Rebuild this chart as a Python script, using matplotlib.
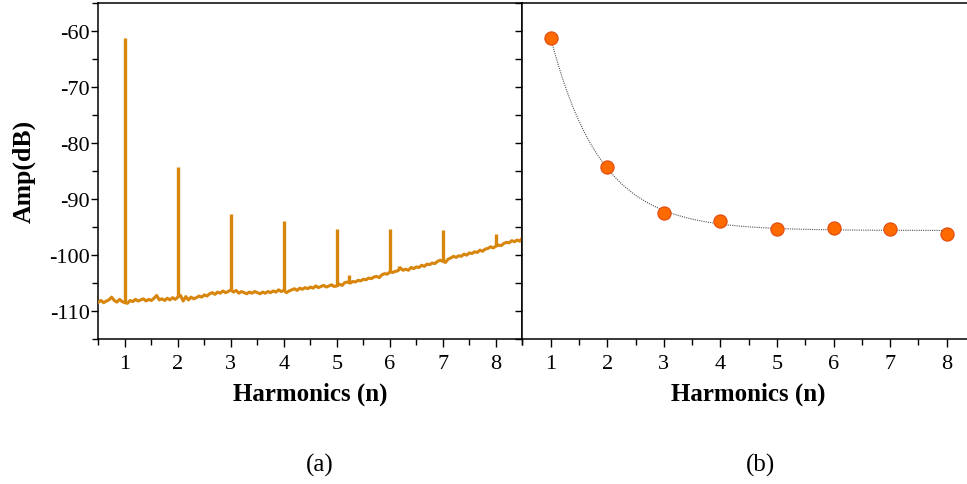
import numpy as np
import matplotlib
matplotlib.use("Agg")
import matplotlib.pyplot as plt
from matplotlib.ticker import MultipleLocator

# (a) spectrum: noise floor sampled every 0.05 harmonic from 0.5 to 8.5
floor_start = 0.5
floor_step = 0.05
floor_db = [
    -108.5, -108.2, -108.6, -108.3, -108.1, -107.6, -108.2, -108.5, -108.0, -108.4,
    -108.6, -108.7, -108.2, -108.4, -108.0, -108.3, -108.1, -107.9, -108.3, -108.0,
    -108.2, -107.8, -107.3, -108.1, -107.9, -108.2, -107.8, -108.1, -107.7, -108.0,
    -107.6, -107.3, -108.3, -107.5, -108.1, -107.6, -107.9, -107.7, -107.4, -107.6,
    -107.2, -107.4, -107.0, -106.8, -107.1, -106.7, -106.9, -106.5, -106.8, -106.6,
    -106.3, -106.7, -106.4, -106.9, -106.6, -106.8, -107.0, -106.7, -106.9, -106.6,
    -106.8, -107.0, -106.7, -106.9, -106.6, -106.8, -106.5, -106.7, -106.3, -106.6,
    -106.4, -106.8, -106.5, -106.3, -106.1, -106.4, -106.0, -106.2, -105.9, -106.1,
    -105.8, -106.0, -105.6, -105.9, -105.7, -105.5, -105.8, -105.6, -105.4, -105.7,
    -105.6, -105.3, -105.5, -105.0, -104.9, -105.1, -104.8, -104.9, -104.6, -104.7,
    -104.4, -104.5, -104.2, -104.3, -104.0, -103.9, -104.1, -103.6, -103.4, -103.5,
    -103.1, -103.2, -103.0, -102.9, -102.4, -102.8, -102.6, -102.8, -102.3, -102.5,
    -102.2, -102.3, -101.9, -102.1, -101.7, -101.8, -101.5, -101.6, -101.2, -101.0,
    -101.2, -101.4, -100.8, -100.6, -100.3, -100.5, -100.2, -100.3, -99.9, -100.1,
    -99.7, -99.8, -99.5, -99.6, -99.2, -99.4, -99.0, -98.9, -98.6, -98.8,
    -98.5, -98.3, -98.4, -98.0, -97.8, -97.9, -97.5, -97.7, -97.4, -97.6,
    -97.0,
]
# spectral lines (harmonic peaks and small spurs)
line_n = [1, 2, 3, 4, 5, 6, 7, 8, 5.22, 6.18]
line_db = [-61.2, -84.3, -92.7, -93.9, -95.4, -95.35, -95.6, -96.4, -103.6, -102.0]

# (b) extracted harmonic amplitudes
harm_n = [1, 2, 3, 4, 5, 6, 7, 8]
harm_db = [-61.3, -84.4, -92.6, -93.9, -95.4, -95.3, -95.5, -96.3]

plt.rcParams['font.family'] = ['Liberation Serif', 'DejaVu Serif']
plt.rcParams['axes.unicode_minus'] = False
orange = '#D8850C'
tick_fs = 16

fig = plt.figure(figsize=(9.67, 4.85), dpi=100)
ax1 = fig.add_axes([0.1017, 0.300, 0.4385, 0.6918])
ax2 = fig.add_axes([0.5403, 0.300, 0.468, 0.6918])

# ---- (a)
fx = floor_start + floor_step * np.arange(len(floor_db))
ax1.plot(fx, floor_db, color=orange, lw=2.2, zorder=3)
base = np.interp(line_n, fx, floor_db)
ax1.vlines(line_n, base, line_db, color=orange, lw=2.4, zorder=3)
ax1.set_xlim(0.5, 8.5)
ax1.set_ylim(-115, -55)
ax1.xaxis.set_major_locator(MultipleLocator(1))
ax1.xaxis.set_minor_locator(MultipleLocator(0.5))
ax1.yaxis.set_major_locator(MultipleLocator(10))
ax1.yaxis.set_minor_locator(MultipleLocator(5))
ax1.tick_params(axis='y', which='both', direction='out', labelsize=tick_fs, pad=1)
ax1.tick_params(axis='y', which='major', length=5, width=1)
ax1.tick_params(axis='y', which='minor', length=4, width=1)
ax1.tick_params(axis='x', which='major', length=6, width=1, labelsize=tick_fs, pad=5)
ax1.tick_params(axis='x', which='minor', length=4, width=1)
ax1.set_xlabel('Harmonics (n)', fontsize=18, fontweight='bold', labelpad=6)
ax1.set_ylabel('Amp(dB)', fontsize=18.5, fontweight='bold', labelpad=9.5)
for s in ax1.spines.values():
    s.set_linewidth(1.1)

# ---- (b)
k_grid = np.linspace(0.3, 3.0, 271)
best = None
hx = np.array(harm_n, dtype=float)
hy = np.array(harm_db)
for k in k_grid:
    M = np.column_stack([np.ones_like(hx), np.exp(-k * (hx - 1))])
    coef, res, _, _ = np.linalg.lstsq(M, hy, rcond=None)
    err = np.sum((M @ coef - hy) ** 2)
    if best is None or err < best[0]:
        best = (err, k, coef)
_, k_fit, c_fit = best
xs = np.linspace(1, 8, 300)
ax2.plot(xs, c_fit[0] + c_fit[1] * np.exp(-k_fit * (xs - 1)), color='#555555', lw=0.8, ls=(0, (1, 1)), zorder=2)
ax2.plot(harm_n, harm_db, 'o', ms=9.5, mfc='#FF6A00', mec='#E04A10', mew=0.8, zorder=3)
ax2.set_xlim(0.5, 8.5)
ax2.set_ylim(-115, -55)
ax2.xaxis.set_major_locator(MultipleLocator(1))
ax2.xaxis.set_minor_locator(MultipleLocator(0.5))
ax2.yaxis.set_major_locator(MultipleLocator(10))
ax2.yaxis.set_minor_locator(MultipleLocator(5))
# ticks on the shared border point back into panel (a)
ax2.tick_params(axis='y', which='both', direction='out', length=5, width=1, labelleft=False)
ax2.tick_params(axis='x', which='major', length=6, width=1, labelsize=tick_fs, pad=5)
ax2.tick_params(axis='x', which='minor', length=4, width=1)
ax2.set_xlabel('Harmonics (n)', fontsize=18, fontweight='bold', labelpad=6)
ax2.spines['right'].set_visible(False)
for s in ax2.spines.values():
    s.set_linewidth(1.1)

fig.text(0.331, 0.041, '(a)', fontsize=18, ha='center', va='center')
fig.text(0.786, 0.041, '(b)', fontsize=18, ha='center', va='center')

fig.savefig('out.png', dpi=100)
